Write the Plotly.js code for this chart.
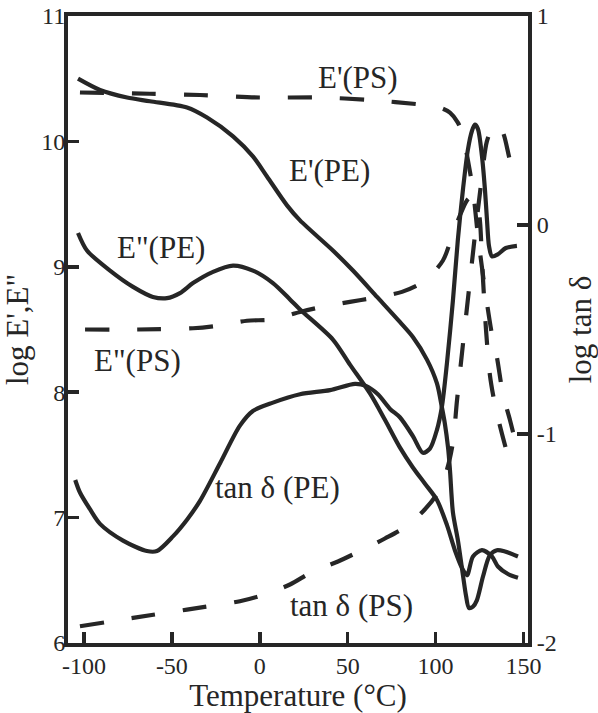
<!DOCTYPE html>
<html>
<head>
<meta charset="utf-8">
<script src="https://cdn.plot.ly/plotly-3.0.1.min.js"></script>
<style>
  html, body { margin: 0; padding: 0; background: #ffffff; }
  #chart { width: 598px; height: 713px; }
</style>
</head>
<body>
<div id="chart"></div>
<script>
// Dynamic mechanical spectra of polyethylene (PE, solid) and polystyrene (PS, dashed).
// Moduli are read on the left axis (log E', log E"), loss tangent on the right axis (log tan δ).

// E' of PE
const ePE_T   = [-103.4, -90.9, -75.5, -62.5, -41.4, -30.0, -15.2, -3.9, 4.1, 15.5, 22.9, 41.6, 53.0, 66.7, 79.7, 87.1, 95.1, 100.8, 103.6, 105.3, 107.1, 108.2, 109.9, 112.7, 115.6, 117.3, 119.0, 121.3, 123.5, 127.0, 130.9, 134.9, 139.5, 146.9];
const ePE_log = [10.50, 10.41, 10.35, 10.32, 10.27, 10.19, 10.04, 9.88, 9.72, 9.49, 9.37, 9.13, 8.97, 8.76, 8.56, 8.44, 8.26, 8.07, 7.88, 7.75, 7.56, 7.38, 7.04, 6.82, 6.54, 6.38, 6.28, 6.29, 6.34, 6.53, 6.70, 6.74, 6.73, 6.69];

// E" of PE
const eppPE_T   = [-103.4, -98.3, -85.2, -72.1, -60.8, -52.8, -45.4, -38.0, -26.6, -15.2, -3.9, 7.5, 17.2, 22.9, 41.6, 51.3, 62.7, 71.2, 79.7, 87.1, 94.0, 100.8, 106.5, 111.0, 115.0, 117.9, 121.3, 126.4, 132.1, 135.5, 141.2, 146.9];
const eppPE_log = [9.27, 9.13, 8.97, 8.84, 8.76, 8.75, 8.79, 8.87, 8.96, 9.01, 8.97, 8.87, 8.74, 8.66, 8.42, 8.22, 7.99, 7.78, 7.56, 7.40, 7.27, 7.14, 6.94, 6.74, 6.60, 6.54, 6.69, 6.74, 6.69, 6.61, 6.55, 6.52];

// tan δ of PE
const tanPE_T   = [-105.0, -102.3, -96.6, -90.9, -77.8, -64.2, -58.5, -49.4, -41.4, -34.0, -22.6, -11.3, -3.9, 7.5, 22.9, 40.0, 54.2, 60.4, 67.2, 74.1, 79.7, 87.1, 92.8, 96.8, 100.8, 103.6, 106.5, 109.9, 112.7, 115.6, 118.4, 120.7, 122.4, 124.1, 126.4, 128.1, 129.3, 130.4, 132.1, 135.5, 140.0, 146.3];
const tanPE_log = [-1.22, -1.28, -1.36, -1.43, -1.51, -1.56, -1.56, -1.49, -1.41, -1.32, -1.14, -0.96, -0.89, -0.85, -0.81, -0.79, -0.76, -0.77, -0.81, -0.88, -0.92, -1.01, -1.09, -1.07, -0.98, -0.87, -0.66, -0.36, -0.07, 0.17, 0.36, 0.45, 0.48, 0.46, 0.33, 0.17, 0.02, -0.10, -0.15, -0.14, -0.11, -0.10];

// E' of PS
const ePS_T   = [-102.3, -62.5, -34.0, 0.0, 34.2, 62.7, 94.0, 102.5, 108.2, 112.7, 115.6, 118.4, 121.3, 124.1, 128.1, 132.1, 134.9, 138.4, 142.3, 146.9];
const ePS_log = [10.39, 10.38, 10.37, 10.35, 10.35, 10.33, 10.29, 10.27, 10.23, 10.15, 10.05, 9.85, 9.61, 9.25, 8.82, 8.46, 8.28, 7.98, 7.78, 7.52];

// E" of PS
const eppPS_T   = [-99.4, -69.3, -38.0, -23.8, -7.3, 6.9, 22.9, 35.4, 51.3, 63.8, 80.9, 94.0, 104.2, 109.3, 113.9, 117.9, 120.7, 123.5, 125.3, 126.4, 127.5, 128.7, 130.9, 133.8, 137.2, 140.6];
const eppPS_log = [8.50, 8.50, 8.51, 8.53, 8.57, 8.58, 8.64, 8.68, 8.72, 8.75, 8.80, 8.89, 9.05, 9.24, 9.41, 9.53, 9.56, 9.53, 9.36, 9.05, 8.78, 8.50, 8.14, 7.90, 7.70, 7.52];

// tan δ of PS
const tanPS_T   = [-102.3, -72.1, -41.4, -11.3, 1.8, 17.2, 29.7, 44.5, 57.0, 71.2, 83.7, 94.0, 101.4, 106.5, 109.9, 112.2, 115.6, 119.0, 122.4, 125.8, 129.2, 132.7, 136.1, 138.9, 142.3, 146.3];
const tanPS_log = [-1.92, -1.88, -1.84, -1.80, -1.77, -1.72, -1.66, -1.61, -1.56, -1.50, -1.44, -1.36, -1.28, -1.17, -1.04, -0.84, -0.57, -0.31, -0.05, 0.19, 0.40, 0.47, 0.48, 0.43, 0.31, 0.20];

// Axis ticks
const tempTicks   = [-100, -50, 0, 50, 100, 150];
const tempLabels  = ['-100', '-50', '0', '50', '100', '150'];
const modTicks    = [6, 7, 8, 9, 10, 11];
const modLabels   = ['6', '7', '8', '9', '10', '11'];
const tanTicks    = [-2, -1, 0, 1];
const tanLabels   = ['-2', '-1', '0', '1'];

const INK = '#262626';
const FONT = 'Liberation Serif';
const solid = { color: INK, width: 4.2, shape: 'spline', smoothing: 0.8 };
const dashed = { color: INK, width: 4.2, dash: '24px,28px', shape: 'spline', smoothing: 0.8 };

const traces = [
  { x: ePE_T,   y: ePE_log,   yaxis: 'y',  mode: 'lines', line: solid,  name: "E'(PE)" },
  { x: eppPE_T, y: eppPE_log, yaxis: 'y',  mode: 'lines', line: solid,  name: 'E"(PE)' },
  { x: tanPE_T, y: tanPE_log, yaxis: 'y2', mode: 'lines', line: solid,  name: 'tan δ (PE)' },
  { x: ePS_T,   y: ePS_log,   yaxis: 'y',  mode: 'lines', line: dashed, name: "E'(PS)" },
  { x: eppPS_T, y: eppPS_log, yaxis: 'y',  mode: 'lines', line: dashed, name: 'E"(PS)' },
  { x: tanPS_T, y: tanPS_log, yaxis: 'y2', mode: 'lines', line: dashed, name: 'tan δ (PS)' }
];

// Curve names written next to their curves, placed in data coordinates
function curveLabel(text, x, y) {
  return { text: text, x: x, y: y, xref: 'x', yref: 'y', showarrow: false,
           xanchor: 'center', yanchor: 'middle',
           font: { family: FONT, size: 31, color: INK } };
}

const tickFont = { family: FONT, size: 24, color: INK };
const titleFont = { family: FONT, size: 31, color: INK };

const layout = {
  width: 598, height: 713,
  margin: { l: 68, r: 70, t: 16, b: 70 },
  paper_bgcolor: '#ffffff', plot_bgcolor: '#ffffff',
  showlegend: false,
  font: { family: FONT, color: INK },
  xaxis: {
    range: [-109.1, 152.6],
    tickmode: 'array', tickvals: tempTicks, ticktext: tempLabels,
    ticks: 'inside', ticklen: 11, tickwidth: 3.5, tickcolor: INK,
    ticklabelstandoff: -2,
    showline: true, linewidth: 4, linecolor: INK, mirror: true,
    showgrid: false, zeroline: false,
    tickfont: tickFont,
    title: { text: 'Temperature (°C)', font: titleFont, standoff: 5 }
  },
  yaxis: {
    range: [6, 11],
    tickmode: 'array', tickvals: modTicks, ticktext: modLabels,
    ticks: 'inside', ticklen: 11, tickwidth: 3.5, tickcolor: INK,
    ticklabelstandoff: -6,
    showline: true, linewidth: 4, linecolor: INK,
    showgrid: false, zeroline: false,
    tickfont: tickFont,
    title: { text: 'log E\',E"', font: titleFont, standoff: 8 }
  },
  yaxis2: {
    range: [-2, 1], overlaying: 'y', side: 'right',
    tickmode: 'array', tickvals: tanTicks, ticktext: tanLabels,
    ticks: 'inside', ticklen: 11, tickwidth: 3.5, tickcolor: INK,
    showline: true, linewidth: 4, linecolor: INK,
    showgrid: false, zeroline: false,
    tickfont: tickFont,
    title: { text: 'log tan δ', font: titleFont, standoff: 15 }
  },
  annotations: [
    curveLabel("E'(PS)", 55.9, 10.51),
    curveLabel("E'(PE)", 39.9, 9.77),
    curveLabel('E"(PE)', -56.2, 9.15),
    curveLabel('E"(PS)', -69.3, 8.25),
    curveLabel('tan δ (PE)', 10.3, 7.24),
    curveLabel('tan δ (PS)', 51.9, 6.30)
  ]
};

Plotly.newPlot('chart', traces, layout, { staticPlot: true, displayModeBar: false });
</script>
</body>
</html>
